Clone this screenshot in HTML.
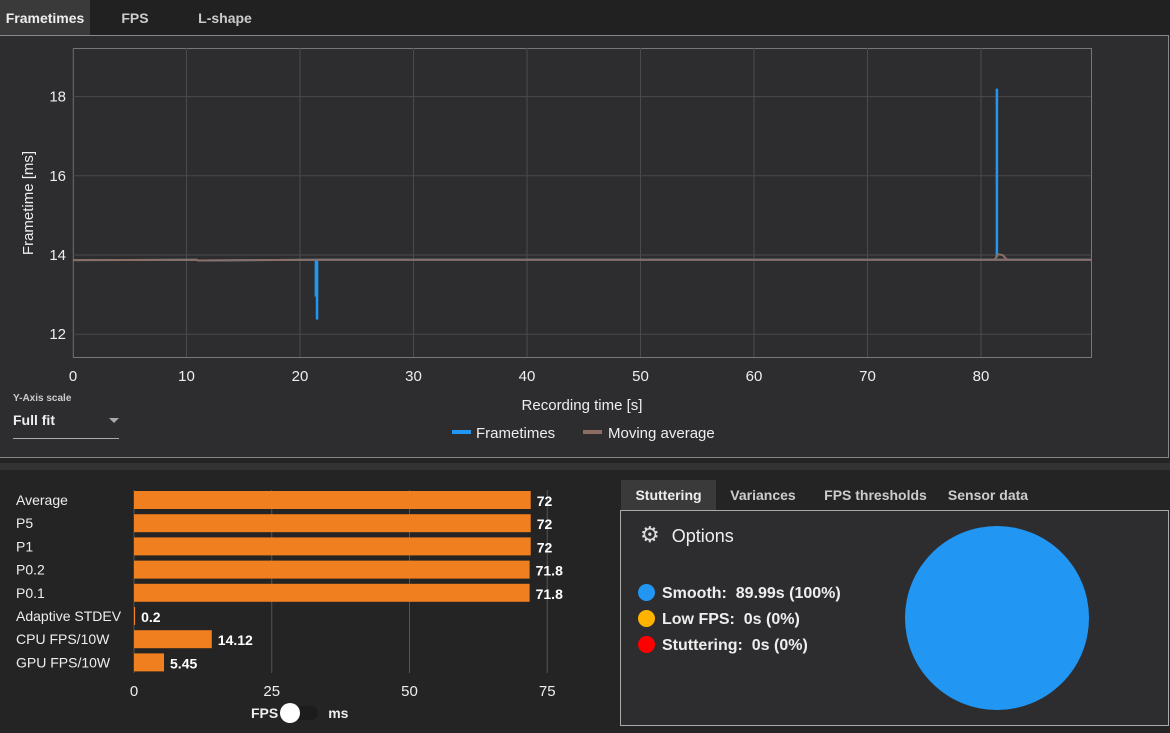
<!DOCTYPE html>
<html><head><meta charset="utf-8"><style>
body{margin:0;width:1170px;height:733px;background:#242424;font-family:"Liberation Sans",sans-serif;overflow:hidden;position:relative;color:#ddd}
.abs{position:absolute}
.tab{position:absolute;top:0;height:35px;line-height:37px;font-size:14px;font-weight:bold;color:#ccc;text-align:center}
.rt{position:absolute;top:480px;height:30px;line-height:30px;font-size:14px;font-weight:bold;color:#ccc;text-align:center}
</style></head><body>
<div class="abs" style="left:0;top:0;width:1170px;height:35px;background:#212121"></div>
<div class="tab" style="left:0;width:90px;background:#3a3a3a;color:#eee">Frametimes</div>
<div class="tab" style="left:105px;width:60px">FPS</div>
<div class="tab" style="left:190px;width:70px">L-shape</div>
<div class="abs" style="left:0;top:35px;width:1168px;height:421px;background:#2d2d30;border:1px solid #888;border-left:none"></div>
<div class="abs" style="left:0;top:463px;width:1170px;height:7px;background:#333"></div>
<svg class="abs" style="left:0;top:0" width="1170" height="460">
<g id="g"></g>
</svg>
<div class="abs" style="left:13px;top:393px;font-size:10px;font-weight:bold;color:#ccc">Y-Axis scale</div>
<div class="abs" style="left:13px;top:412px;width:106px;height:26px;border-bottom:1px solid #aaa;font-size:14px;font-weight:bold;color:#eee">Full fit<span style="position:absolute;right:0;top:6px;width:0;height:0;border-left:5px solid transparent;border-right:5px solid transparent;border-top:5px solid #aaa"></span></div>
<svg class="abs" style="left:0;top:470px" width="600" height="263"><g id="b"></g></svg>
<div class="abs" style="left:251px;top:705px;font-size:14px;font-weight:bold;color:#eee">FPS<span style="display:inline-block;position:relative;width:36px;height:14px;border-radius:7px;background:#1c1c1c;margin:0 10px 0 4px;vertical-align:-2px"><span style="position:absolute;left:-2px;top:-3px;width:20px;height:20px;border-radius:10px;background:#fff"></span></span>ms</div>
<div class="rt" style="left:621px;width:95px;background:#3a3a3a;color:#eee">Stuttering</div>
<div class="rt" style="left:722px;width:82px">Variances</div>
<div class="rt" style="left:818px;width:115px">FPS thresholds</div>
<div class="rt" style="left:940px;width:96px">Sensor data</div>
<div class="abs" style="left:620px;top:510px;width:547px;height:214px;border:1px solid #aaa;background:#2d2d30"></div>
<div class="abs" style="left:640px;top:522px;font-size:18px;color:#eee"><span style="font-size:22px;color:#ddd;margin-right:12px">⚙</span>Options</div>
<div class="abs" style="left:638px;top:581px;font-size:16px;font-weight:bold;color:#eee;line-height:26px">
<div><span style="display:inline-block;width:17px;height:17px;border-radius:9px;background:#2196f3;vertical-align:-3px;margin-right:7px"></span>Smooth:&nbsp; 89.99s (100%)</div>
<div><span style="display:inline-block;width:17px;height:17px;border-radius:9px;background:#ffb300;vertical-align:-3px;margin-right:7px"></span>Low FPS:&nbsp; 0s (0%)</div>
<div><span style="display:inline-block;width:17px;height:17px;border-radius:9px;background:#f00;vertical-align:-3px;margin-right:7px"></span>Stuttering:&nbsp; 0s (0%)</div>
</div>
<svg class="abs" style="left:900px;top:520px" width="200" height="200"><ellipse cx="97" cy="98" rx="92" ry="92" fill="#2196f3"/></svg>
<script>
const NS="http://www.w3.org/2000/svg";
const xTicks=[0,10,20,30,40,50,60,70,80];
const yTicks=[12,14,16,18];
const baseTimes=[0,10.9,11,21.4,21.7,81.3,82.2,89.7];
const baseValues=[13.87,13.88,13.86,13.88,13.88,13.88,13.88,13.88];
const spikeTimes=[21.4,21.5,81.4];
const spikeLow=[12.95,12.37,13.95];
const spikeHigh=[13.9,13.9,18.2];
const avgBumpTimes=[81.2,81.5,81.9,82.3];
const avgBumpValues=[13.88,14.02,14.0,13.88];
const X=t=>73+t*11.35, Y=v=>255-(v-14)*39.6;
function el(tag,a,p){const e=document.createElementNS(NS,tag);for(const k in a)e.setAttribute(k,a[k]);p.appendChild(e);return e;}
const g=document.getElementById('g');
const frame=el('rect',{x:73.5,y:48.5,width:1018,height:309,fill:'none',stroke:'#777'},g);


xTicks.forEach(t=>{const l=el('line',{x1:X(t),x2:X(t),y1:48,y2:357,stroke:'#4a4a4a'},g);


const tx=el('text',{x:X(t),y:381,fill:'#eee','font-size':15,'text-anchor':'middle'},g);tx.textContent=t;

});
yTicks.forEach(v=>{const l=el('line',{x1:73,x2:1091,y1:Y(v),y2:Y(v),stroke:'#4a4a4a'},g);


const tx=el('text',{x:66,y:Y(v)+5,fill:'#eee','font-size':15,'text-anchor':'end'},g);tx.textContent=v;

});
let pts=baseTimes.map((t,i)=>X(t)+','+Y(baseValues[i])).join(' ');
const ft=el('polyline',{points:pts,fill:'none',stroke:'#2196f3','stroke-width':2},g);


spikeTimes.forEach((t,i)=>{const s=el('line',{x1:X(t),x2:X(t),y1:Y(spikeHigh[i]),y2:Y(spikeLow[i]),stroke:'#2196f3','stroke-width':2.5},g);

});
const ma=el('polyline',{points:baseTimes.map((t,i)=>X(t)+','+Y(baseValues[i])).join(' '),fill:'none',stroke:'#8d6e63','stroke-width':2},g);


const mb=el('polyline',{points:avgBumpTimes.map((t,i)=>X(t)+','+Y(avgBumpValues[i])).join(' '),fill:'none',stroke:'#8d6e63','stroke-width':2},g);


const xt=el('text',{x:582,y:410,fill:'#eee','font-size':15,'text-anchor':'middle'},g);xt.textContent='Recording time [s]';


const yt=el('text',{x:33,y:203,fill:'#eee','font-size':15,'text-anchor':'middle',transform:'rotate(-90 33 203)'},g);yt.textContent='Frametime [ms]';


[[452,'#2196f3','Frametimes',476],[583,'#8d6e63','Moving average',608]].forEach(([x,c,t,tx])=>{
const r=el('rect',{x:x,y:430,width:19,height:4,fill:c},g);


const te=el('text',{x:tx,y:438,fill:'#eee','font-size':15},g);te.textContent=t;

});
// bar chart
const barLabels=['Average','P5','P1','P0.2','P0.1','Adaptive STDEV','CPU FPS/10W','GPU FPS/10W'];
const barValues=[72,72,72,71.8,71.8,0.2,14.12,5.45];
const barTicks=[0,25,50,75];
const bg=document.getElementById('b');
const BX=v=>134+v*5.51;
barTicks.forEach(t=>{const l=el('line',{x1:BX(t),x2:BX(t),y1:20,y2:203,stroke:'#555'},bg);


const tx=el('text',{x:BX(t),y:226,fill:'#eee','font-size':15,'text-anchor':'middle'},bg);tx.textContent=t;

});
barLabels.forEach((lab,i)=>{const cy=30+i*23.2;
const t=el('text',{x:16,y:cy+5,fill:'#eee','font-size':14},bg);t.textContent=lab;


const r=el('rect',{x:BX(0),y:cy-9,width:Math.max(1,BX(barValues[i])-BX(0)),height:18,fill:'#f07f20'},bg);


const v=el('text',{x:BX(barValues[i])+6,y:cy+6,fill:'#fff','font-size':14,'font-weight':'bold'},bg);v.textContent=barValues[i];

});
</script>
</body></html>
